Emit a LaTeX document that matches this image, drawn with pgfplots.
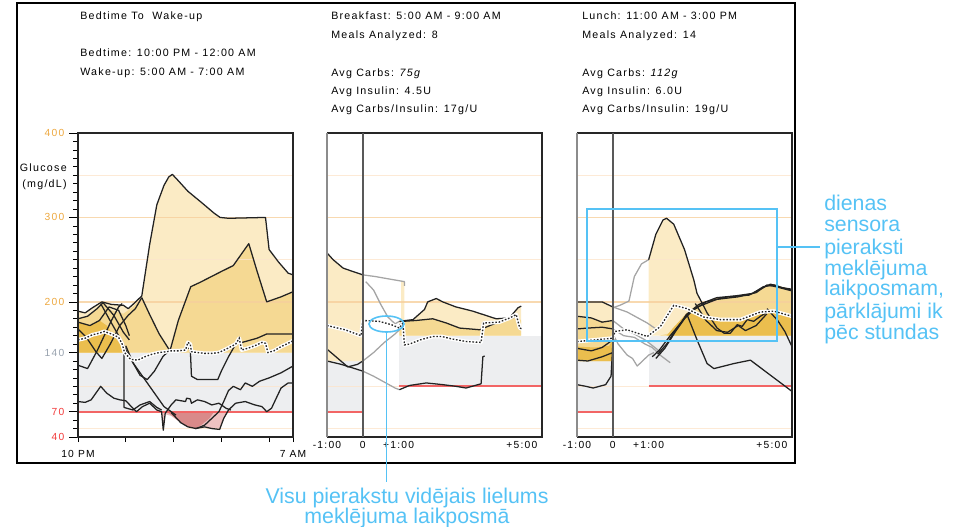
\documentclass[border=0pt]{standalone}
\usepackage{fontspec}
\setmainfont{Liberation Sans}
\newfontfamily\lab[LetterSpace=12]{Liberation Sans}
\usepackage{pgfplots}
\usepackage{pgfplotstable}
\pgfplotsset{compat=1.18}

\definecolor{lightY}{HTML}{FBEBC5}
\definecolor{medY}{HTML}{F5D993}
\definecolor{darkY}{HTML}{EBBE4E}
\definecolor{band}{HTML}{EDEEF0}
\definecolor{gridL}{HTML}{FCE5CC}
\definecolor{gridM}{HTML}{F6CF9C}
\definecolor{redL}{HTML}{F26565}
\definecolor{pinkD}{HTML}{D98A8A}
\definecolor{pinkL}{HTML}{EEC2C2}
\definecolor{tr}{HTML}{222222}
\definecolor{grTr}{HTML}{A5A5A5}
\definecolor{annot}{HTML}{55C2F5}
\definecolor{orTick}{HTML}{EDA83F}
\definecolor{redTick}{HTML}{F23A3A}
\definecolor{grTick}{HTML}{98A2AE}

\newcommand\labfont{\lab\fontsize{8}{9.5}\selectfont}
\newcommand\tickfont{\lab\fontsize{7.7}{9}\selectfont}
\newcommand\bluefont{\fontsize{16}{16}\selectfont}

% mean curves (dotted line with white halo)
\pgfplotstableread{
x y
0 155
0.3 157
0.6 161
0.9 163
1.1 165
1.4 162
1.7 158
1.85 150
1.95 140
2.2 132
2.5 131
2.8 135
3.1 138
3.4 140
3.7 141
3.9 142
4.2 142
4.5 143
4.6 152
4.7 150
4.75 141
5.0 140
5.3 139
5.6 139
5.9 140
6.2 144
6.4 147
6.6 150
6.75 157
6.85 143
7.1 145
7.4 148
7.7 152
7.85 151
7.95 140
8.2 142
8.5 147
8.8 151
9 154
}\meanA
\pgfplotstableread{
x y
-1 172
-0.5 167
-0.05 160
0 178
0.45 177
0.8 173
1.02 169
1.12 175
1.16 149
1.3 150
1.6 155
1.95 159
2.2 159
2.5 156
2.9 153
3.3 152
3.37 175
3.8 176
4.1 181
4.28 185
4.38 169
4.45 168
}\meanB
\pgfplotstableread{
x y
-1 153
0 157
0.06 165
0.4 167
0.96 159
1.33 171
1.7 196
2.07 192
2.54 182
3.0 179
3.56 179
4.12 188
4.49 189
5 183
}\meanC

\tikzset{
  trace/.style={tr, line width=0.95pt, line join=round},
  gtrace/.style={grTr, line width=0.95pt, line join=round},
  halo/.style={white, line width=2.9pt, line join=round},
  dots/.style={black!85, line width=1pt, dash pattern=on 1.2pt off 1.3pt},
}
\pgfplotsset{
  panel/.style={scale only axis, width=161.25pt, height=228pt, anchor=south west,
    ymin=40, ymax=400, clip=false, axis line style={draw=none},
    tick pos=left, tick align=outside,
    tick style={black, line width=0.5pt},
    ticklabel style={font=\tickfont, text=black},
    /pgf/number format/assume math mode=true},
}

\begin{document}
\begin{tikzpicture}
\path[use as bounding box] (0,0) rectangle (722.25pt,-395.25pt);

% ---------------- Bedtime to wake-up ----------------
\begin{axis}[panel, at={(58.5pt,-327.75pt)}, xmin=0, xmax=9,
  xtick={0,2,4,6,8,9}, xticklabels={10 PM,,,,,7 AM},
  xtick style={/pgfplots/major tick length=3.75pt},
  ytick={40,70,140,200,300,400},
  yticklabels={\textcolor{redTick}{40},\textcolor{redTick}{70},\textcolor{grTick}{140},
    \textcolor{orTick}{200},\textcolor{orTick}{300},\textcolor{orTick}{400}},
  minor ytick={50,60,...,390},
  major tick length=6.75pt, minor tick length=3.5pt]
\addplot[fill=band, draw=none] coordinates {(0,70)(9,70)(9,140)(0,140)} -- cycle;
\addplot[fill=lightY, draw=none] coordinates {(0,140)(0,189)(0.3,187)(0.6,193)(1.0,200)(1.4,197)(1.9,196)(2.1,192)(2.3,197)(2.67,207)(3.0,268)(3.3,315)(3.6,338)(3.8,348)(3.95,351)(4.15,345)(4.6,331)(5.2,317)(5.7,305)(5.95,300)(6.3,299)(7.85,300)(8.0,262)(8.4,247)(8.8,234)(9,232)(9,140)} -- cycle;
\addplot[fill=medY, draw=none] coordinates {(0,140)(0,180)(0.4,183)(0.8,192)(1.05,199)(1.4,190)(1.9,186)(2.3,194)(2.67,205)(3.0,185)(3.4,162)(3.85,142)(4.2,178)(4.72,218)(5.1,223)(6.0,236)(6.5,243)(7.15,269)(7.5,236)(7.9,200)(8.5,206)(9,212)(9,140)} -- cycle;
\addplot[fill=darkY, draw=none] coordinates {(0,140)(0,176)(0.5,172)(0.9,178)(1.2,172)(1.5,160)(1.8,148)(1.95,140)} -- cycle;
\addplot[fill=pinkL, draw=none] coordinates {(3.5,70)(3.57,48)(3.65,67)(3.9,65)(4.3,57)(4.6,52)(4.95,50)(5.3,53)(5.6,50)(5.93,49)(6.1,62)(6.3,70)} -- cycle;
\addplot[fill=pinkD, draw=none] coordinates {(3.7,70)(3.9,66)(4.3,57)(4.6,52)(4.95,50)(5.2,55)(5.5,62)(5.7,70)} -- cycle;
\pgfplotsinvokeforeach{50,100,250,350}{\addplot[gridL, line width=1pt, opacity=0.8] coordinates {(0,#1)(9,#1)};}
\pgfplotsinvokeforeach{200,300,400}{\addplot[gridM, line width=1pt, opacity=0.8] coordinates {(0,#1)(9,#1)};}
\addplot[redL, line width=1.5pt] coordinates {(0,70)(9,70)};
% daily traces
\addplot[trace] coordinates {(0,189)(0.3,187)(0.6,193)(1.0,200)(1.4,197)(1.9,196)(2.1,192)(2.3,197)(2.67,207)(3.0,268)(3.3,315)(3.6,338)(3.8,348)(3.95,351)(4.15,345)(4.6,331)(5.2,317)(5.7,305)(5.95,300)(6.3,299)(7.85,300)(8.0,262)(8.4,247)(8.8,234)(9,232)};
\addplot[trace] coordinates {(2.67,205)(3.0,185)(3.4,162)(3.85,142)(4.2,178)(4.72,218)(5.1,223)(6.0,236)(6.5,243)(7.15,269)(7.5,236)(7.9,200)(8.5,206)(9,212)};
\addplot[trace] coordinates {(0,180)(0.4,183)(0.8,192)(1.05,199)(1.5,184)(1.9,164)(2.15,155)};
\addplot[trace] coordinates {(0,176)(0.5,172)(0.9,178)(1.3,194)(1.7,190)(2.0,172)(2.15,160)};
\addplot[trace] coordinates {(0,168)(0.35,158)(0.75,141)(1.0,133)(1.35,150)(1.75,172)(2.1,184)(2.4,192)(2.67,205)};
\addplot[trace] coordinates {(0,125)(0.4,121)(0.8,142)(1.1,160)(1.4,178)(1.7,194)(1.85,198)};
\addplot[trace] coordinates {(0.95,198)(1.3,180)(1.8,155)(2.2,132)(2.7,112)(3.2,92)(3.6,76)(3.9,70)(4.1,66)};
\addplot[trace] coordinates {(1.93,143)(1.93,75)(2.3,72)(2.6,78)(3.0,82)(3.3,75)(3.5,72)};
\addplot[trace] coordinates {(0,82)(0.3,81)(0.55,84)(0.75,92)(0.95,100)(1.2,92)(1.5,86)(1.75,84)(2.0,83)(2.3,74)(2.45,70)(2.7,76)(3.0,80)(3.3,72)(3.5,70)(3.57,48)(3.65,68)(3.9,78)(4.1,84)(4.3,83)(4.5,82)(4.55,86)(4.7,85)(4.75,80)(5.0,84)(5.3,82)(5.6,78)(5.9,80)(6.2,74)(6.4,72)};
\addplot[trace] coordinates {(3.9,69)(4.3,57)(4.6,52)(4.95,50)(5.3,54)(5.6,62)(5.9,70)(6.1,82)(6.3,95)(6.5,100)(6.8,96)(7.0,104)(7.3,100)(7.6,106)(8.0,110)(8.5,116)(9,124)};
\addplot[trace] coordinates {(4.9,50)(5.3,52)(5.6,50)(5.93,49)(6.1,62)(6.3,72)(6.6,80)(7.0,82)(7.4,78)(7.7,76)(7.9,70)(8.1,74)(8.5,98)(8.8,104)(9,104)};
\addplot[trace] coordinates {(2.0,148)(2.3,128)(2.6,113)(2.9,108)(3.2,118)(3.55,135)(3.8,142)(4.1,143)(4.4,143)(4.6,145)(4.7,145)(4.75,112)(5.0,108)(5.5,108)(5.85,108)(6.0,118)(6.3,135)(6.6,150)(7.0,153)(7.5,157)(7.9,162)(8.5,162)(9,162)};
\addplot[halo] table {\meanA};
\addplot[dots] table {\meanA};
\draw[black!85, line width=0.8pt] (rel axis cs:0,0) rectangle (rel axis cs:1,1);
\end{axis}

% ---------------- Breakfast ----------------
\begin{axis}[panel, at={(245.25pt,-327.75pt)}, xmin=-1, xmax=5,
  xtick={-1,0,1}, xticklabels={-1:00,0,+1:00},
  extra x ticks={5}, extra x tick labels={+5:00},
  extra x tick style={xticklabel style={anchor=north east}},
  ytick=\empty, major tick length=0pt]
\addplot[fill=band, draw=none] coordinates {(-1,70)(0,70)(0,130)(-1,130)} -- cycle;
\addplot[fill=band, draw=none] coordinates {(1,100)(5,100)(5,160)(1,160)} -- cycle;
\addplot[fill=lightY, draw=none] coordinates {(-1,130)(-1,258)(-0.83,250)(-0.55,240)(-0.28,236)(0,232)(0,130)} -- cycle;
\addplot[fill=lightY, draw=none] coordinates {(1.02,160)(1.02,177)(1.40,179)(1.72,191)(1.81,200)(2.05,204)(2.23,200)(2.60,194)(3.07,189)(3.72,180)(4.09,181)(4.33,193)(4.42,195)(4.42,160)} -- cycle;
\addplot[fill=lightY, draw=none] coordinates {(1.07,160)(1.07,225)(1.16,224)(1.16,160)} -- cycle;
\addplot[fill=medY, draw=none] coordinates {(1.02,160)(1.02,172)(1.12,177)(1.49,178)(1.95,180)(2.33,175)(2.70,169)(3.26,167)(3.72,175)(4.1,180)(4.3,183)(4.42,178)(4.42,160)} -- cycle;
\pgfplotsinvokeforeach{50,100,250,350}{\addplot[gridL, line width=1pt, opacity=0.8] coordinates {(-1,#1)(5,#1)};}
\pgfplotsinvokeforeach{200,300,400}{\addplot[gridM, line width=1pt, opacity=0.8] coordinates {(-1,#1)(5,#1)};}
\addplot[redL, line width=1.5pt] coordinates {(-1,70)(0,70)};
\addplot[redL, line width=1.5pt] coordinates {(1,100)(5,100)};
\addplot[trace] coordinates {(-1,258)(-0.83,250)(-0.55,240)(-0.28,236)(0,232)};
\addplot[gtrace] coordinates {(0,232)(0.35,230)(0.75,227)(1.16,224)(1.16,219)};
\addplot[gtrace] coordinates {(0.08,224)(0.3,214)(0.5,197)(0.7,182)(0.9,174)(1.02,177)};
\addplot[trace] coordinates {(1.02,177)(1.40,179)(1.72,191)(1.81,200)(2.05,204)(2.23,200)(2.60,194)(3.07,189)(3.72,180)(4.09,181)(4.33,193)(4.42,195)};
\addplot[trace] coordinates {(1.02,172)(1.12,177)(1.49,178)(1.95,180)(2.33,175)(2.70,169)(3.26,167)(3.72,175)(4.1,180)(4.3,183)};
\addplot[trace] coordinates {(-1,144)(-0.75,135)(-0.42,123)(-0.15,126)(0,130)};
\addplot[trace] coordinates {(-1,130)(-0.6,126)(-0.3,122)(0,118)};
\addplot[gtrace] coordinates {(0,130)(0.3,140)(0.6,152)(0.9,162)(1.02,167)};
\addplot[gtrace] coordinates {(0,118)(0.3,112)(0.6,105)(0.9,98)(1.02,96)};
\addplot[trace] coordinates {(1.02,96)(1.30,101)(1.77,104)(2.23,102)(2.60,100)(2.88,98)(3.30,103)(3.35,135)(3.40,136)};
\addplot[halo] table {\meanB};
\addplot[dots] table {\meanB};
\draw[black!85, line width=0.8pt] (rel axis cs:0,1) -- (rel axis cs:1,1) -- (rel axis cs:1,0) -- (rel axis cs:0,0);
\draw[black!45, line width=1pt] (rel axis cs:0,0) -- (rel axis cs:0,1);
\draw[black!65, line width=1.2pt] (axis cs:0,40) -- (axis cs:0,400);
\end{axis}

% ---------------- Lunch ----------------
\begin{axis}[panel, at={(432.75pt,-327.75pt)}, xmin=-1, xmax=5,
  xtick={-1,0,1}, xticklabels={-1:00,0,+1:00},
  extra x ticks={5}, extra x tick labels={+5:00},
  extra x tick style={xticklabel style={anchor=north east}},
  ytick=\empty, major tick length=0pt]
\addplot[fill=band, draw=none] coordinates {(-1,70)(0,70)(0,130)(-1,130)} -- cycle;
\addplot[fill=band, draw=none] coordinates {(1,100)(5,100)(5,160)(1,160)} -- cycle;
\addplot[fill=lightY, draw=none] coordinates {(-1,130)(-1,200)(-0.25,200)(0,194)(0,130)} -- cycle;
\addplot[fill=medY, draw=none] coordinates {(-1,130)(-1,183)(-0.55,180)(-0.2,176)(0,178)(0,130)} -- cycle;
\addplot[fill=darkY, draw=none] coordinates {(-1,130)(-1,147)(-0.5,146)(-0.1,148)(0,155)(0,130)} -- cycle;
\addplot[fill=lightY, draw=none] coordinates {(1.0,160)(1.0,250)(1.2,280)(1.4,297)(1.5,299)(1.7,292)(2.0,262)(2.26,226)(2.35,210)(2.45,202)(2.63,187)(2.91,169)(3.1,163)(3.1,160)} -- cycle;
\addplot[fill=medY, draw=none] coordinates {(1.3,160)(1.6,163)(1.9,175)(2.05,185)(2.4,197)(2.9,205)(3.4,207)(3.9,210)(4.2,218)(4.5,221)(4.7,218)(5,215)(5,160)} -- cycle;
\addplot[fill=darkY, draw=none] coordinates {(1.5,160)(1.7,170)(2.07,187)(2.54,182)(3.0,179)(3.56,179)(4.12,188)(4.49,189)(5,183)(5,160)} -- cycle;
\pgfplotsinvokeforeach{50,100,250,350}{\addplot[gridL, line width=1pt, opacity=0.8] coordinates {(-1,#1)(5,#1)};}
\pgfplotsinvokeforeach{200,300,400}{\addplot[gridM, line width=1pt, opacity=0.8] coordinates {(-1,#1)(5,#1)};}
\addplot[redL, line width=1.5pt] coordinates {(-1,70)(0,70)};
\addplot[redL, line width=1.5pt] coordinates {(1,100)(5,100)};
\addplot[trace] coordinates {(-1,200)(-0.3,200)(0,194)};
\addplot[trace] coordinates {(-1,183)(-0.6,181)(-0.3,176)(0,178)};
\addplot[trace] coordinates {(-1,168)(-0.7,169)(-0.3,170)(0,168)};
\addplot[trace] coordinates {(-1,145)(-0.6,142)(-0.3,146)(0,155)};
\addplot[trace] coordinates {(-1,131)(-0.7,130)(-0.3,135)(0,140)};
\addplot[trace] coordinates {(-1,102)(-0.75,100)(-0.55,98)(-0.2,102)(-0.05,112)(0,150)};
\addplot[gtrace] coordinates {(0,194)(0.4,188)(0.96,175)(1.2,168)};
\addplot[gtrace] coordinates {(0,178)(0.3,168)(0.6,162)(0.9,155)(1.2,145)(1.35,140)};
\addplot[gtrace] coordinates {(0,150)(0.05,158)(0.15,150)(0.4,137)(0.55,133)(0.68,124)(1.0,137)(1.15,140)};
\addplot[gtrace] coordinates {(0,193)(0.2,196)(0.45,201)(0.6,230)(0.8,245)(1.0,250)};
\addplot[gtrace] coordinates {(0,168)(0.3,160)(0.6,158)(0.9,150)(1.1,146)(1.35,136)(1.6,128)};
\addplot[trace] coordinates {(1.0,250)(1.2,280)(1.4,297)(1.5,299)(1.7,292)(2.0,262)(2.26,226)(2.35,210)(2.45,202)(2.63,187)(2.91,169)(3.1,163)(3.28,163)(3.47,173)(3.61,171)(3.75,179)(3.93,177)(4.12,183)(4.4,190)};
\addplot[trace] coordinates {(1.1,135)(1.3,143)(1.6,160)(1.9,175)(2.05,185)(2.4,197)(2.9,205)(3.4,207)(3.9,210)(4.2,218)(4.5,220)(4.7,217)(5,215)};
\addplot[trace] coordinates {(1.2,133)(1.45,145)(1.75,165)(2.0,180)(2.3,193)(2.9,203)(3.5,206)(4.0,211)(4.3,220)(4.55,218)(5,213)};
\addplot[trace] coordinates {(1.25,138)(1.5,150)(1.8,170)(2.1,186)(2.6,200)(3.2,206)(3.8,208)(4.15,216)(4.4,221)(4.8,216)(5,214)};
\addplot[trace] coordinates {(2.07,185)(2.35,155)(2.63,127)(2.82,121)(3.38,127)(3.84,131)(4.31,116)(5,94)};
\addplot[trace] coordinates {(4.3,192)(4.6,178)(4.8,165)(5,147)};
\addplot[trace] coordinates {(2.3,198)(2.6,178)(2.9,166)(3.2,164)(3.5,172)(3.7,166)(4.0,172)(4.3,186)};
\addplot[halo] table {\meanC};
\addplot[dots] table {\meanC};
\draw[black!85, line width=0.8pt] (rel axis cs:0,1) -- (rel axis cs:1,1) -- (rel axis cs:1,0) -- (rel axis cs:0,0);
\draw[black!45, line width=1pt] (rel axis cs:0,0) -- (rel axis cs:0,1);
\draw[black!65, line width=1.2pt] (axis cs:0,40) -- (axis cs:0,400);
\end{axis}

% ---------------- frame, headers, callouts (pixel units) ----------------
\begin{scope}[x=0.75pt, y=-0.75pt]
\draw[black, line width=2pt] (17,3) rectangle (795,463);
\begin{scope}[every node/.style={anchor=base west, inner sep=0pt, font=\labfont}]
\node at (80,20) {Bedtime To\ \ Wake-up};
\node at (80,56.5) {Bedtime: 10:00 PM - 12:00 AM};
\node at (80,76) {Wake-up: 5:00 AM - 7:00 AM};
\node at (331,20) {Breakfast: 5:00 AM - 9:00 AM};
\node at (331,38.5) {Meals Analyzed: 8};
\node at (331,77) {Avg Carbs: \textit{75g}};
\node at (331,95) {Avg Insulin: 4.5U};
\node at (331,113) {Avg Carbs/Insulin: 17g/U};
\node at (582,20) {Lunch: 11:00 AM - 3:00 PM};
\node at (582,38.5) {Meals Analyzed: 14};
\node at (582,77) {Avg Carbs: \textit{112g}};
\node at (582,95) {Avg Insulin: 6.0U};
\node at (582,113) {Avg Carbs/Insulin: 19g/U};
\node[anchor=base east] at (67,171.5) {Glucose};
\node[anchor=base east] at (67,187.5) {(mg/dL)};
\end{scope}
\draw[annot, line width=1.2pt] (587,209) rectangle (777,341);
\draw[annot, line width=1.2pt] (777,247) -- (820,247);
\draw[annot, line width=1.2pt] (386.5,324) ellipse [x radius=17.5, y radius=8];
\draw[annot, line width=1.2pt] (386.5,332) -- (386.5,482);
\begin{scope}[every node/.style={anchor=base west, inner sep=0pt, font=\bluefont, text=annot}]
\node at (824,211) {dienas};
\node at (824,232) {sensora};
\node at (824,254) {pieraksti};
\node at (824,275) {meklējuma};
\node at (824,296) {laikposmam,};
\node at (824,318) {pārklājumi ik};
\node at (824,339) {pēc stundas};
\node[anchor=base] at (407,503) {Visu pierakstu vidējais lielums};
\node[anchor=base] at (407,523) {meklējuma laikposmā};
\end{scope}
\end{scope}
\end{tikzpicture}
\end{document}
